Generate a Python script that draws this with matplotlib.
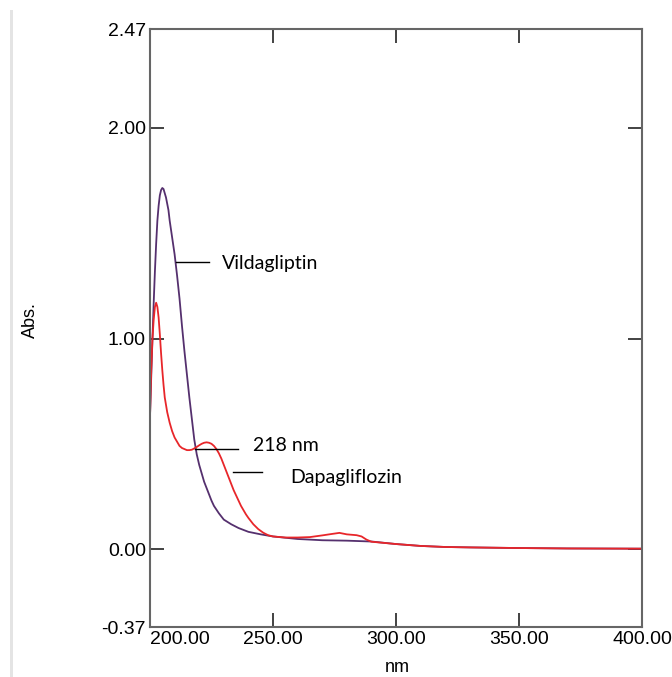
import matplotlib.pyplot as plt
from matplotlib.patches import Rectangle
import numpy as np

# wavelength (nm) / absorbance
vilda_nm = [200, 200.5, 201, 201.5, 202, 202.5, 203, 203.5, 204, 204.5, 205, 205.5,
            206, 206.5, 207, 207.5, 208, 209, 210, 211, 212, 213, 214, 215, 216, 217,
            218, 219, 220, 221, 222, 223, 224, 225, 226, 228, 230, 233, 236, 240, 245,
            250, 260, 270, 280, 290, 300, 310, 320, 330, 350, 370, 400]
vilda_abs = [0.63, 0.82, 1.00, 1.17, 1.32, 1.45, 1.56, 1.63, 1.68, 1.705, 1.715, 1.71,
             1.69, 1.67, 1.64, 1.61, 1.56, 1.48, 1.40, 1.30, 1.19, 1.06, 0.94, 0.83, 0.72, 0.62,
             0.52, 0.45, 0.40, 0.36, 0.32, 0.29, 0.26, 0.23, 0.205, 0.17, 0.14, 0.118, 0.10, 0.082, 0.07,
             0.06, 0.048, 0.042, 0.040, 0.036, 0.024, 0.015, 0.010, 0.008, 0.005, 0.003, 0.002]

dapa_nm = [200, 200.5, 201, 201.5, 202, 202.5, 203, 203.5, 204, 204.5, 205, 205.5,
           206, 207, 208, 209, 210, 211, 212, 213, 214, 215, 216, 217, 218, 219, 220,
           221, 222, 223, 224, 225, 226, 227, 228, 229, 230, 231, 232, 233, 234, 235,
           236, 237, 238, 239, 240, 241, 242, 244, 246, 248, 250, 255, 260, 265, 270,
           274, 277, 280, 284, 286, 288, 290, 300, 310, 320, 330, 350, 370, 400]
dapa_abs = [0.63, 0.85, 1.00, 1.09, 1.15, 1.17, 1.15, 1.10, 1.02, 0.93, 0.85, 0.78,
            0.72, 0.65, 0.60, 0.56, 0.53, 0.51, 0.49, 0.48, 0.475, 0.47, 0.47, 0.472, 0.478, 0.485, 0.493,
            0.50, 0.505, 0.507, 0.505, 0.50, 0.49, 0.475, 0.455, 0.43, 0.40, 0.37, 0.34, 0.31, 0.28, 0.255,
            0.23, 0.205, 0.185, 0.165, 0.148, 0.133, 0.118, 0.095, 0.078, 0.066, 0.06, 0.055, 0.055, 0.057, 0.065,
            0.072, 0.077, 0.07, 0.066, 0.06, 0.045, 0.035, 0.024, 0.015, 0.010, 0.008, 0.005, 0.003, 0.002]

x_ticks = [200, 250, 300, 350, 400]
y_ticks = [-0.37, 0.0, 1.0, 2.0, 2.47]

plt.rcParams['font.family'] = ['Liberation Sans', 'DejaVu Sans']

fig = plt.figure(figsize=(6.72, 6.77), dpi=100)
ax = fig.add_axes([150/672, 1-627/677, 492/672, 598/677])

# light grey border strip at the left of the screenshot
fig.add_artist(Rectangle((10/672, 0), 3/672, 1-10/677, transform=fig.transFigure,
                         color='#e4e4e4', lw=0))

ax.plot(vilda_nm, vilda_abs, color='#55306e', lw=1.3)
ax.plot(dapa_nm, dapa_abs, color='#e8262a', lw=1.3)

ax.set_xlim(200, 400)
ax.set_ylim(-0.37, 2.47)
ax.set_xticks(x_ticks)
ax.set_xticklabels(['%.2f' % v for v in x_ticks])
ax.set_yticks(y_ticks)
ax.set_yticklabels(['%.2f' % v for v in y_ticks])
ax.get_xticklabels()[0].set_horizontalalignment('left')
ax.tick_params(direction='in', length=10, width=1.2, color='#222222', labelsize=14,
               top=True, right=True, pad=3)

for s in ax.spines.values():
    s.set_color('#666666')
    s.set_linewidth(1.5)

fig.text(30/672, 1-320/677, 'Abs.', fontsize=13, rotation=90, ha='center', va='center')
fig.text(397/672, 1-676/677, 'nm', fontsize=13, ha='center', va='bottom')

# annotations
ann_font = dict(fontsize=14, family=['Lato', 'DejaVu Sans'], va='center')
ax.plot([210.6, 224], [1.364, 1.364], color='black', lw=1)
ax.text(229.3, 1.355, 'Vildagliptin', **ann_font)
ax.plot([218.3, 235.8], [0.474, 0.474], color='black', lw=1)
ax.text(241.9, 0.493, '218 nm', **ann_font)
ax.plot([233.7, 245.5], [0.364, 0.364], color='black', lw=1)
ax.text(256.9, 0.34, 'Dapagliflozin', **ann_font)

fig.savefig('out.png', dpi=100)
